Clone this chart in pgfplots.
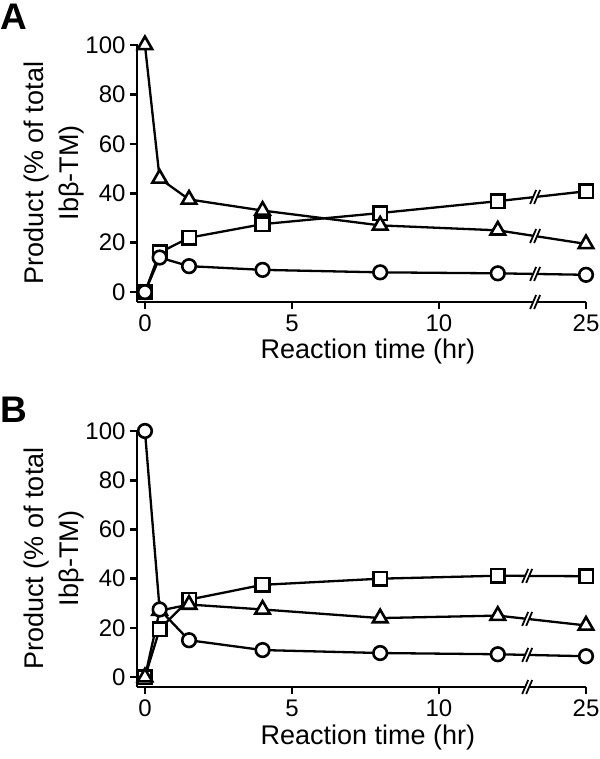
\documentclass[border=0pt]{standalone}
\usepackage{fontspec}
\setmainfont{Liberation Sans}
\usepackage{pgfplots}
\pgfplotsset{compat=1.18}

\newcommand\brk[1]{%
 \fill[white] (#1) ++(-5bp,-7bp) -- ++(6bp,14bp) -- ++(4bp,0bp) -- ++(-6bp,-14bp) -- cycle;
 \draw[line width=1.8bp] (#1) ++(-5bp,-7bp) -- ++(6bp,14bp);
 \draw[line width=1.8bp] (#1) ++(-1bp,-7bp) -- ++(6bp,14bp);}

\pgfplotsset{
  panel/.style={
    scale only axis,
    width=449bp,
    xmin=-0.27, xmax=15,
    ymin=-4, ymax=100.4,
    axis x line*=bottom, axis y line*=left,
    x axis line style={-, line width=2.6bp},
    y axis line style={-, line width=2.6bp},
    tick align=outside,
    major tick length=7bp,
    tick style={line width=2.6bp, black},
    xtick={0,5,10,15}, xticklabels={0,5,10,25},
    ytick={0,20,40,60,80,100},
    /pgf/number format/assume math mode=true,
    tick label style={font=\fontsize{24bp}{28bp}\selectfont},
    xticklabel style={yshift=-2bp},
    yticklabel style={xshift=-1bp},
    every axis x label/.style={at={(axis description cs:0.514,0)}, anchor=base, yshift=-57bp,
      font=\fontsize{27bp}{32bp}\selectfont},
    every axis y label/.style={at={(axis description cs:-0.185,0.5)}, rotate=90, anchor=center,
      align=center, font=\fontsize{27bp}{35bp}\selectfont},
    xlabel={Reaction time (hr)},
    ylabel={Product (\% of total\\Ibβ-TM)},
    clip=false,
  },
  ser/.style={black, line width=2.3bp, mark options={fill=white, line width=2.6bp, solid}},
  tri/.style={ser, mark=triangle*, mark size=8.4bp},
  sqr/.style={ser, mark=square*, mark size=6.8bp},
  cir/.style={ser, mark=*, mark size=6.8bp},
}

\begin{document}
\begin{tikzpicture}
\useasboundingbox (0,0) rectangle (600bp,759bp);

% Panel A
\begin{axis}[panel, height=258bp, at={(137bp,457bp)}, anchor=south west]
\addplot[sqr] coordinates {(0,0) (0.5,16) (1.5,22) (4,27.5) (8,32) (12,36.8) (15,40.8)};
\addplot[tri] coordinates {(0,100) (0.5,46) (1.5,37.5) (4,33) (8,27) (12,25) (15,19.5)};
\addplot[cir] coordinates {(0,0) (0.5,14) (1.5,10.5) (4,9) (8,8) (12,7.6) (15,7)};
\coordinate (a1) at (axis cs:13.27,38.5);
\coordinate (a2) at (axis cs:13.27,22.7);
\coordinate (a3) at (axis cs:13.27,7.35);
\coordinate (a4) at (axis cs:13.27,-4);
\end{axis}
\brk{a1}\brk{a2}\brk{a3}\brk{a4}
\node[anchor=north west, inner sep=0pt, font=\fontsize{37bp}{40bp}\selectfont\bfseries] at (0bp,755bp) {A};

% Panel B
\begin{axis}[panel, height=257bp, at={(137bp,72bp)}, anchor=south west]
\addplot[sqr] coordinates {(0,0) (0.5,19.5) (1.5,31.5) (4,37.5) (8,40) (12,41.2) (15,41)};
\addplot[tri] coordinates {(0,0) (0.5,27) (1.5,29.5) (4,27.5) (8,24) (12,25) (15,21)};
\addplot[cir] coordinates {(0,100) (0.5,27.5) (1.5,15) (4,11) (8,9.8) (12,9.3) (15,8.5)};
\coordinate (b1) at (axis cs:13.0,41.13);
\coordinate (b2) at (axis cs:13.0,23.67);
\coordinate (b3) at (axis cs:13.0,9.03);
\coordinate (b4) at (axis cs:13.0,-4);
\end{axis}
\brk{b1}\brk{b2}\brk{b3}\brk{b4}
\node[anchor=north west, inner sep=0pt, font=\fontsize{37bp}{40bp}\selectfont\bfseries] at (0bp,362bp) {B};
\end{tikzpicture}
\end{document}
